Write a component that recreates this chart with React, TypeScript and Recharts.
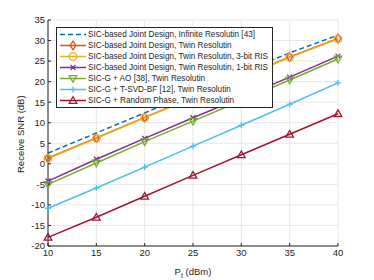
import React from 'react'
import { LineChart, Line, XAxis, YAxis, CartesianGrid } from 'recharts'

const pt = [10, 15, 20, 25, 30, 35, 40]
const infinite = [2.6, 7.5, 12.4, 17.3, 22.2, 27.0, 31.3]
const twin = [1.4, 6.3, 11.3, 16.2, 21.1, 26.0, 30.5]
const bit3 = [1.3, 6.2, 11.2, 16.1, 21.0, 25.9, 30.4]
const bit1 = [-4.2, 1.1, 6.2, 11.2, 16.1, 21.1, 26.2]
const ao = [-5.0, 0.2, 5.4, 10.4, 15.4, 20.4, 25.5]
const tsvd = [-10.8, -5.9, -0.8, 4.3, 9.4, 14.5, 19.7]
const random = [-17.9, -13.0, -7.9, -2.8, 2.2, 7.2, 12.2]

const xTicks = [10, 15, 20, 25, 30, 35, 40]
const yTicks = [-20, -15, -10, -5, 0, 5, 10, 15, 20, 25, 30, 35]

const series = [
  { key: 'infinite', name: 'SIC-based Joint Design, Infinite Resolutin [43]', color: '#0072BD', marker: 'none', dash: '5 3' },
  { key: 'twin', name: 'SIC-based Joint Design, Twin Resolutin', color: '#D95319', marker: 'diamond' },
  { key: 'bit3', name: 'SIC-based Joint Design, Twin Resolutin, 3-bit RIS', color: '#EDB120', marker: 'circle' },
  { key: 'bit1', name: 'SIC-based Joint Design, Twin Resolutin, 1-bit RIS', color: '#7E2F8E', marker: 'x' },
  { key: 'ao', name: 'SIC-G + AO [38], Twin Resolutin', color: '#77AC30', marker: 'tridown' },
  { key: 'tsvd', name: 'SIC-G + T-SVD-BF [12], Twin Resolutin', color: '#4DBEEE', marker: 'plus' },
  { key: 'random', name: 'SIC-G + Random Phase, Twin Resolutin', color: '#A2142F', marker: 'triup' },
]

const data = pt.map((p, i) => ({
  pt: p,
  infinite: infinite[i],
  twin: twin[i],
  bit3: bit3[i],
  bit1: bit1[i],
  ao: ao[i],
  tsvd: tsvd[i],
  random: random[i],
}))

const AXIS = '#262626'
const FONT = '"Liberation Sans", Arial, sans-serif'

function Marker({ type, cx, cy, color }: { type: string; cx: number; cy: number; color: string }) {
  const s = 3.8
  switch (type) {
    case 'diamond':
      return <polygon points={`${cx},${cy - s - 0.5} ${cx + s - 1},${cy} ${cx},${cy + s + 0.5} ${cx - s + 1},${cy}`} fill="none" stroke={color} strokeWidth={1.3} />
    case 'circle':
      return <circle cx={cx} cy={cy} r={s} fill="none" stroke={color} strokeWidth={1.3} />
    case 'x':
      return (
        <g stroke={color} strokeWidth={1.3}>
          <line x1={cx - 2.5} y1={cy - 2.5} x2={cx + 2.5} y2={cy + 2.5} />
          <line x1={cx - 2.5} y1={cy + 2.5} x2={cx + 2.5} y2={cy - 2.5} />
        </g>
      )
    case 'plus':
      return (
        <g stroke={color} strokeWidth={1.3}>
          <line x1={cx - 3} y1={cy} x2={cx + 3} y2={cy} />
          <line x1={cx} y1={cy - 3} x2={cx} y2={cy + 3} />
        </g>
      )
    case 'tridown':
      return <polygon points={`${cx - s},${cy - s + 1} ${cx + s},${cy - s + 1} ${cx},${cy + s}`} fill="none" stroke={color} strokeWidth={1.3} />
    case 'triup':
      return <polygon points={`${cx - s},${cy + s - 1} ${cx + s},${cy + s - 1} ${cx},${cy - s}`} fill="none" stroke={color} strokeWidth={1.3} />
    default:
      return null
  }
}

function LegendBox() {
  return (
    <div
      style={{
        position: 'absolute',
        left: 56,
        top: 27,
        border: '1px solid #262626',
        background: '#fff',
        padding: '1px 4px 1px 2px',
        fontFamily: FONT,
        fontSize: 8.2,
        color: AXIS,
        lineHeight: '11px',
      }}
    >
      {series.map(s => (
        <div key={s.key} style={{ display: 'flex', alignItems: 'center', whiteSpace: 'nowrap' }}>
          <svg width={28} height={11} style={{ marginRight: 1 }}>
            <line x1={1} y1={5.5} x2={27} y2={5.5} stroke={s.color} strokeWidth={1.5} strokeDasharray={s.dash} />
            <Marker type={s.marker} cx={14} cy={5.5} color={s.color} />
          </svg>
          <span>{s.name}</span>
        </div>
      ))}
    </div>
  )
}

function XLabel(props: any) {
  const { viewBox } = props
  const cx = viewBox.x + viewBox.width / 2
  return (
    <text x={cx} y={viewBox.y + 29} textAnchor="middle" fill={AXIS} fontSize={9.5} fontFamily={FONT}>
      P<tspan fontSize={7} dy={3}>t</tspan>
      <tspan dy={-3}> (dBm)</tspan>
    </text>
  )
}

export default function App() {
  return (
    <div style={{ position: 'absolute', left: 0, top: 0, width: 374, height: 280, background: '#fff' }}>
      <LineChart width={374} height={280} data={data} margin={{ top: 20, right: 36, bottom: 8, left: 0 }}>
        <CartesianGrid stroke="#e6e6e6" strokeWidth={1} />
        <XAxis
          dataKey="pt"
          type="number"
          domain={[10, 40]}
          ticks={xTicks}
          height={26}
          stroke={AXIS}
          tickSize={-3}
          tick={{ fill: AXIS, fontSize: 9.5, fontFamily: FONT }}
          tickMargin={6}
          label={<XLabel />}
        />
        <XAxis xAxisId="top" dataKey="pt" type="number" domain={[10, 40]} orientation="top" height={0} tick={false} tickLine={false} stroke={AXIS} />
        <YAxis
          type="number"
          domain={[-20, 35]}
          ticks={yTicks}
          width={48}
          stroke={AXIS}
          tickSize={-3}
          interval={0}
          tick={{ fill: AXIS, fontSize: 9.5, fontFamily: FONT }}
          tickMargin={6}
          label={{ value: 'Receive SNR (dB)', angle: -90, position: 'insideLeft', dx: 16, dy: 40, style: { fill: AXIS, fontSize: 9.5, fontFamily: FONT } }}
        />
        <YAxis yAxisId="right" type="number" domain={[-20, 35]} orientation="right" width={0} tick={false} tickLine={false} stroke={AXIS} />
        {series.map(s => (
          <Line
            key={s.key}
            dataKey={s.key}
            name={s.name}
            stroke={s.color}
            strokeWidth={1.5}
            strokeDasharray={s.dash}
            isAnimationActive={false}
            dot={(p: any) => <Marker key={`${s.key}-${p.index}`} type={s.marker} cx={p.cx} cy={p.cy} color={s.color} />}
            activeDot={false}
          />
        ))}
      </LineChart>
      <LegendBox />
    </div>
  )
}
